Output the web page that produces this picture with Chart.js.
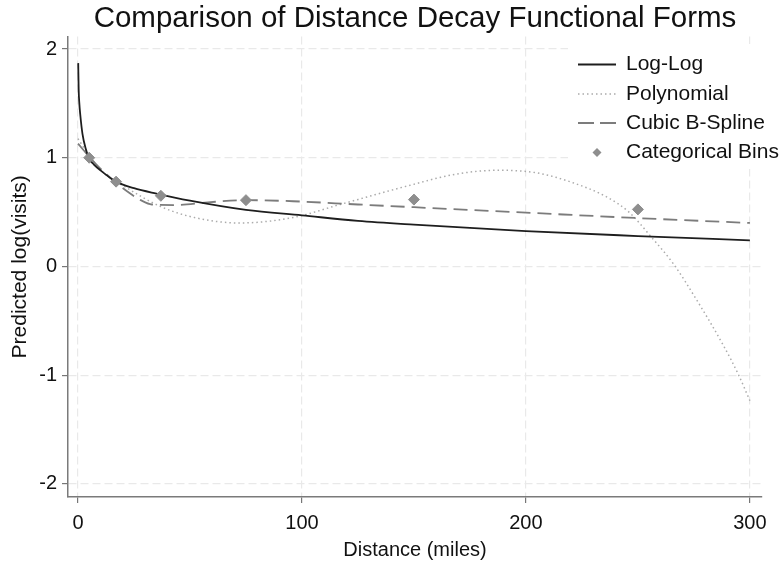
<!DOCTYPE html>
<html lang="en">
<head>
    <meta charset="UTF-8">
    <title>Comparison of Distance Decay Functional Forms</title>
    <script src="https://cdn.jsdelivr.net/npm/chart.js"></script>
    <style>
        html, body { margin: 0; padding: 0; background: #fff; }
    </style>
</head>
<body>
<canvas id="decayChart" width="779" height="564"></canvas>
<script>
    // values
    var loglogX = [0.1, 0.3, 0.6, 1, 2, 3.5, 5, 7, 10, 17, 25, 35, 50, 75, 100, 125, 150, 200, 250, 300];
    var loglogY = [1.87, 1.63, 1.50, 1.40, 1.22, 1.08, 0.99, 0.94, 0.885, 0.78, 0.72, 0.67, 0.605, 0.52, 0.47, 0.42, 0.385, 0.325, 0.28, 0.24];

    var polyX = [0, 5, 11, 22, 37, 52, 72, 96, 117, 147, 169, 188, 205, 221, 236, 246, 256, 266, 276, 288, 295, 300];
    var polyY = [1.175, 1.02, 0.87, 0.72, 0.55, 0.45, 0.40, 0.45, 0.57, 0.74, 0.85, 0.885, 0.86, 0.77, 0.64, 0.50, 0.27, 0.02, -0.30, -0.72, -1.0, -1.235];

    var splineX = [0, 5, 10, 17, 23, 28, 33, 44, 58, 75, 96, 125, 150, 200, 250, 300];
    var splineY = [1.13, 1.01, 0.90, 0.77, 0.675, 0.61, 0.57, 0.565, 0.59, 0.61, 0.60, 0.57, 0.545, 0.495, 0.445, 0.40];

    var binsX = [5, 17, 37, 75, 150, 250];
    var binsY = [1.0, 0.78, 0.65, 0.61, 0.615, 0.525];

    var xTicks = [0, 100, 200, 300];
    var yTicks = [-2, -1, 0, 1, 2];

    var FONT = "'Liberation Sans', Arial, sans-serif";

    function toPoints(xs, ys) {
        return xs.map(function(x, i) { return {x: x, y: ys[i]}; });
    }

    // legend drawn by hand so it can sit in the corner and run off the edge like the original
    var cornerLegend = {
        id: 'cornerLegend',
        afterDraw: function(chart) {
            var ctx = chart.ctx;
            var rows = [64.5, 94, 123, 152.5];
            ctx.save();
            ctx.fillStyle = '#ffffff';
            ctx.fillRect(568, 44, 211, 125);
            chart.data.datasets.forEach(function(ds, i) {
                var y = rows[i];
                ctx.save();
                if (ds.showLine === false) {
                    ctx.fillStyle = ds.pointBackgroundColor;
                    ctx.beginPath();
                    ctx.moveTo(597 - 4.5, y);
                    ctx.lineTo(597, y - 4.5);
                    ctx.lineTo(597 + 4.5, y);
                    ctx.lineTo(597, y + 4.5);
                    ctx.closePath();
                    ctx.fill();
                } else {
                    ctx.strokeStyle = ds.borderColor;
                    ctx.lineWidth = ds.borderWidth;
                    ctx.setLineDash(ds.legendDash || []);
                    ctx.beginPath();
                    ctx.moveTo(578, y);
                    ctx.lineTo(616, y);
                    ctx.stroke();
                }
                ctx.restore();
                ctx.fillStyle = '#111';
                ctx.font = '21px ' + FONT;
                ctx.textBaseline = 'middle';
                ctx.textAlign = 'left';
                ctx.fillText(ds.label, 626, y);
            });
            ctx.restore();
        }
    };

    var ctx = document.getElementById('decayChart');

    var decayChart = new Chart(ctx, {
        type: 'line',
        data: {
            datasets: [
                {
                    label: 'Log-Log',
                    data: toPoints(loglogX, loglogY),
                    borderColor: '#1e1e1e',
                    borderWidth: 1.8,
                    pointRadius: 0,
                    cubicInterpolationMode: 'monotone',
                    order: 1
                },
                {
                    label: 'Polynomial',
                    data: toPoints(polyX, polyY),
                    borderColor: '#ababab',
                    borderWidth: 1.5,
                    borderDash: [1.5, 3],
                    legendDash: [1.5, 3],
                    pointRadius: 0,
                    cubicInterpolationMode: 'monotone',
                    order: 3
                },
                {
                    label: 'Cubic B-Spline',
                    data: toPoints(splineX, splineY),
                    borderColor: '#7c7c7c',
                    borderWidth: 1.8,
                    borderDash: [14, 7],
                    legendDash: [16, 6],
                    pointRadius: 0,
                    cubicInterpolationMode: 'monotone',
                    order: 2
                },
                {
                    label: 'Categorical Bins',
                    data: toPoints(binsX, binsY),
                    showLine: false,
                    pointStyle: 'rectRot',
                    pointRadius: 5.5,
                    pointBorderWidth: 1,
                    pointBackgroundColor: '#8e8e8e',
                    pointBorderColor: '#8e8e8e',
                    order: 0
                }
            ]
        },
        options: {
            responsive: false,
            animation: false,
            layout: {
                padding: {left: 0, right: 17, top: 0, bottom: 0}
            },
            plugins: {
                legend: {display: false},
                tooltip: {enabled: false},
                title: {
                    display: true,
                    fullSize: false,
                    text: 'Comparison of Distance Decay Functional Forms',
                    color: '#111',
                    font: {family: FONT, size: 29.5, weight: 'normal'},
                    padding: {top: 1.2, bottom: 0}
                }
            },
            scales: {
                x: {
                    type: 'linear',
                    min: -4.46,
                    max: 305.4,
                    afterBuildTicks: function(scale) {
                        scale.ticks = xTicks.map(function(v) { return {value: v}; });
                    },
                    afterFit: function(scale) {
                        scale.height = 67;
                    },
                    grid: {
                        color: '#e9e9e9',
                        lineWidth: 1.2,
                        tickColor: '#777',
                        tickLength: 6,
                        tickWidth: 1.2
                    },
                    border: {color: '#7a7a7a', width: 1.5, dash: [8, 4]},
                    ticks: {
                        color: '#111',
                        font: {family: FONT, size: 20},
                        padding: 8,
                        maxRotation: 0
                    },
                    title: {
                        display: true,
                        text: 'Distance (miles)',
                        color: '#111',
                        font: {family: FONT, size: 20},
                        padding: {top: 0, bottom: 2}
                    }
                },
                y: {
                    type: 'linear',
                    min: -2.12,
                    max: 2.114,
                    afterBuildTicks: function(scale) {
                        scale.ticks = yTicks.map(function(v) { return {value: v}; });
                    },
                    afterFit: function(scale) {
                        scale.width = 68;
                    },
                    grid: {
                        color: '#e9e9e9',
                        lineWidth: 1.2,
                        tickColor: '#777',
                        tickLength: 6,
                        tickWidth: 1.2
                    },
                    border: {color: '#7a7a7a', width: 1.5, dash: [8, 4]},
                    ticks: {
                        color: '#111',
                        font: {family: FONT, size: 20},
                        padding: 5
                    },
                    title: {
                        display: true,
                        text: 'Predicted log(visits)',
                        color: '#111',
                        font: {family: FONT, size: 21},
                        padding: {top: 8, bottom: 2}
                    }
                }
            }
        },
        plugins: [cornerLegend]
    });
</script>
</body>
</html>
